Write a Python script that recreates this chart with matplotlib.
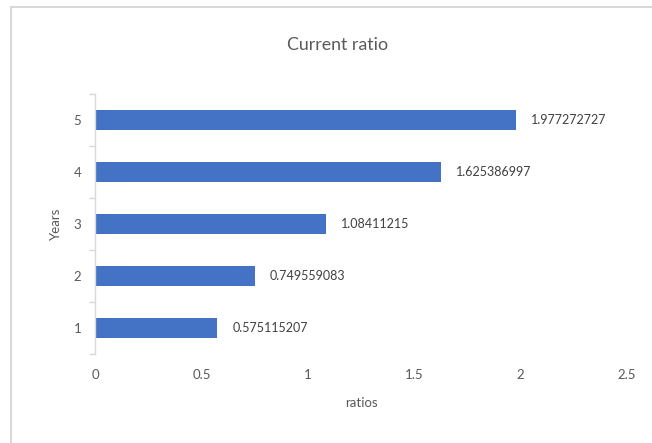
import matplotlib.pyplot as plt
from matplotlib.patches import Rectangle

# data
years = ['1', '2', '3', '4', '5']
ratios = [0.575115207, 0.749559083, 1.08411215, 1.625386997, 1.977272727]
labels = ['0.575115207', '0.749559083', '1.08411215', '1.625386997', '1.977272727']
xticks = [0, 0.5, 1, 1.5, 2, 2.5]
xticklabels = ['0', '0.5', '1', '1.5', '2', '2.5']

bar_color = '#4472C4'
text_color = '#595959'
plt.rcParams['font.family'] = ['Lato', 'DejaVu Sans']

fig = plt.figure(figsize=(6.52, 4.43), dpi=100)
ax = fig.add_axes([95 / 652, 1 - 354 / 443, 532 / 652, 260 / 443])

# outer chart border (top + left visible, rest runs off the image)
fig.patches.append(Rectangle((11 / 652, -0.1), 1.2, 1 - 7 / 443 + 0.1,
                             transform=fig.transFigure, fill=False,
                             edgecolor='#D9D9D9', linewidth=1.5))

pos = list(range(len(years)))
ax.barh(pos, ratios, height=0.4, color=bar_color)

for p, v, lab in zip(pos, ratios, labels):
    ax.annotate(lab, (v, p), xytext=(11, 0), textcoords='offset points',
                va='center', ha='left', fontsize=9, color='#404040')

ax.set_xlim(0, 2.5)
ax.set_ylim(-0.5, len(years) - 0.5)
ax.set_xticks(xticks)
ax.set_xticklabels(xticklabels)
ax.set_yticks(pos)
ax.set_yticklabels(years)
ax.set_yticks([i - 0.5 for i in range(len(years) + 1)], minor=True)

ax.tick_params(axis='x', length=0, pad=11, labelsize=9.5, labelcolor=text_color)
ax.tick_params(axis='y', which='major', length=0, pad=10, labelsize=9.5, labelcolor=text_color)
ax.tick_params(axis='y', which='minor', length=4, width=1, color='#D9D9D9')

for s in ['top', 'right', 'bottom']:
    ax.spines[s].set_visible(False)
ax.spines['left'].set_color('#D9D9D9')
ax.spines['left'].set_linewidth(1)

# title is centred on the whole chart area, not the plot area
fig.text(338 / 652, 1 - 45 / 443, 'Current ratio', ha='center', va='center',
         fontsize=12.8, color=text_color)
ax.set_xlabel('ratios', fontsize=9.5, color=text_color, labelpad=11)
ax.set_ylabel('Years', fontsize=9.5, color=text_color, labelpad=8)

fig.savefig('out.png', dpi=100)
